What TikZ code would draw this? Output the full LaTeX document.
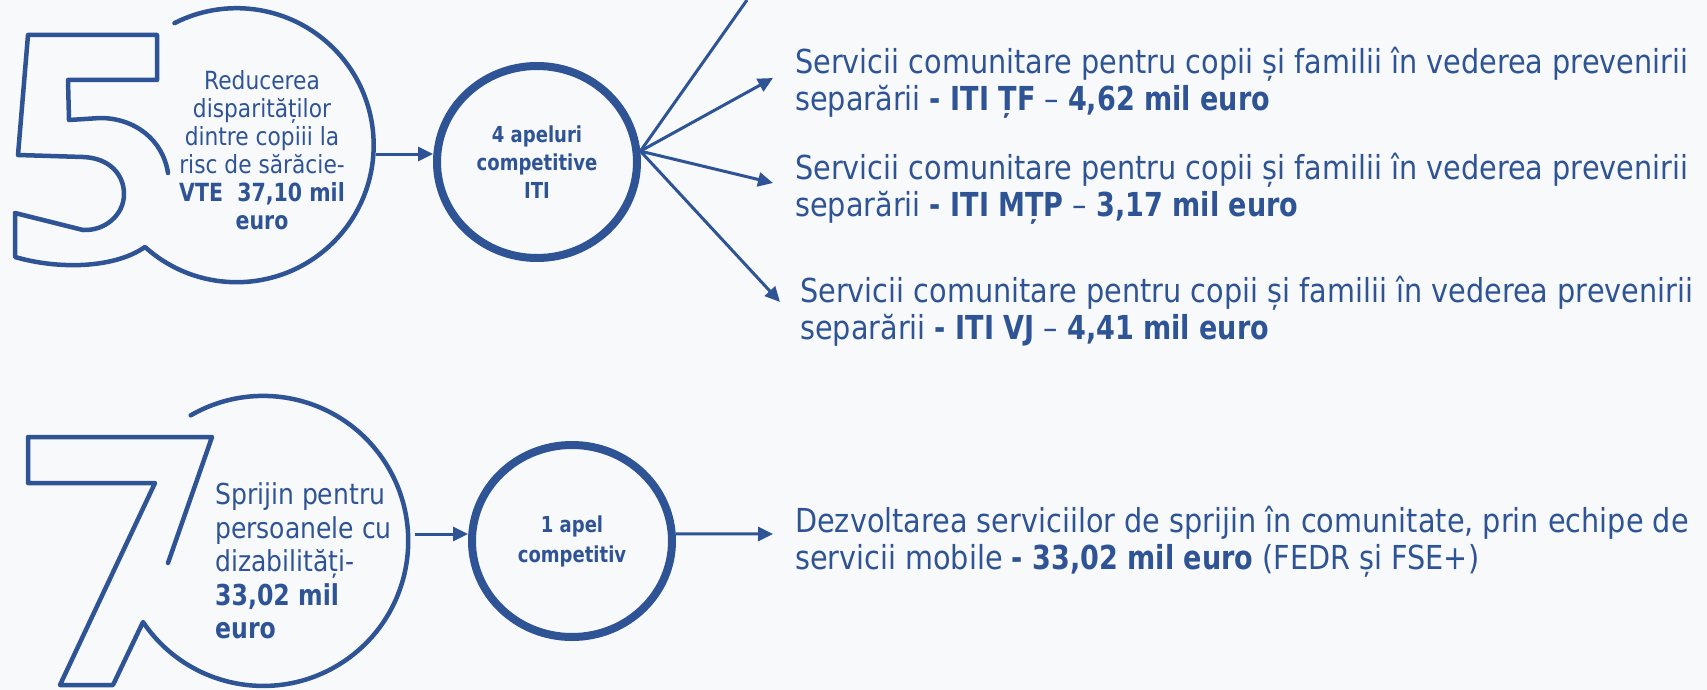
\documentclass[tikz,border=0pt]{standalone}
\usepackage{fontspec}
\setmainfont{DejaVu Sans}[FakeStretch=0.87, BoldFeatures={FakeStretch=0.82}]
\usetikzlibrary{arrows.meta,calc,shapes.geometric}
\definecolor{navy}{RGB}{47,84,150}
\definecolor{paper}{RGB}{248,249,250}

\begin{document}
\begin{tikzpicture}[x=1pt,y=-1pt,
    outl/.style={navy, line width=4.5pt, line join=round, line cap=round},
    hub/.style={ellipse, draw=navy, line width=8pt, minimum width=200pt, minimum height=192pt, inner sep=0pt, text=navy, align=center, font=\fontsize{22}{28}\selectfont\bfseries},
    arr/.style={navy, line width=3pt, -{Triangle[length=15pt,width=14pt]}},
    srv/.style={anchor=west, inner sep=0pt, text=navy, align=left, font=\fontsize{33}{37}\selectfont}]
    \fill[paper] (0,0) rectangle (1707,690);
    \useasboundingbox (0,0) rectangle (1707,690);

    \draw[outl] (168,173) .. controls (163,140) and (135,118) .. (100,118) -- (69,120) -- (68,80) -- (157,80) -- (157,35) -- (28,35) -- (18,155) -- (83,157) .. controls (110,158) and (124,175) .. (124,194) .. controls (124,215) and (105,231) .. (83,230) -- (15,213) -- (15,257) .. controls (60,270) and (115,268) .. (145,247) arc[start angle=132, end angle=-117, radius=137];
    \draw[outl] (168,563) -- (212,437) -- (28,437) -- (28,483) -- (155,483) -- (60,685) -- (113,685) -- (143,622) arc[start angle=146, end angle=-120, radius=145];

    \node[text=navy, align=center, inner sep=0pt, font=\fontsize{25}{28}\selectfont] (txtA) at (262,150) {Reducerea\\disparităților\\dintre copiii la\\risc de sărăcie-\\\textbf{VTE~~37,10 mil}\\\textbf{euro}};
    \node[text=navy, align=left, anchor=west, inner sep=0pt, font=\fontsize{28.8}{33.5}\selectfont] (txtB) at (215,561) {Sprijin pentru\\persoanele cu\\dizabilități-\\\textbf{33,02 mil}\\\textbf{euro}};

    \node[hub] (hubA) at (537,162) {4 apeluri\\competitive\\ITI};
    \node[hub, font=\fontsize{22}{30}\selectfont\bfseries] (hubB) at (572,541) {1 apel\\competitiv};

    \node[srv] (srvA) at (795,83) {Servicii comunitare pentru copii și familii în vederea prevenirii\\separării \textbf{- ITI ȚF} – \textbf{4,62 mil euro}};
    \node[srv] (srvB) at (795,189) {Servicii comunitare pentru copii și familii în vederea prevenirii\\separării \textbf{- ITI MȚP} – \textbf{3,17 mil euro}};
    \node[srv] (srvC) at (800,311) {Servicii comunitare pentru copii și familii în vederea prevenirii\\separării \textbf{- ITI VJ} – \textbf{4,41 mil euro}};
    \node[srv] (srvD) at (795,542) {Dezvoltarea serviciilor de sprijin în comunitate, prin echipe de\\servicii mobile \textbf{- 33,02 mil euro} (FEDR și FSE+)};

    \coordinate (ringA) at (376,154);
    \coordinate (ringB) at (415,534);
    \coordinate (offtop) at (747,0);
    \draw[arr] (ringA) -- (ringA -| hubA.west);
    \draw[navy, line width=3pt] (hubA.6) -- (offtop);
    \draw[arr] (hubA.6) -- ($(srvA.west)+(-22,-5)$);
    \draw[arr] (hubA.6) -- ($(srvB.west)+(-22,-6)$);
    \draw[arr] (hubA.6) -- ($(srvC.west)+(-20,-9)$);
    \draw[arr] (ringB) -- (ringB -| hubB.west);
    \draw[arr] (hubB.4) -- ($(srvD.west)+(-22,-8)$);
\end{tikzpicture}
\end{document}
